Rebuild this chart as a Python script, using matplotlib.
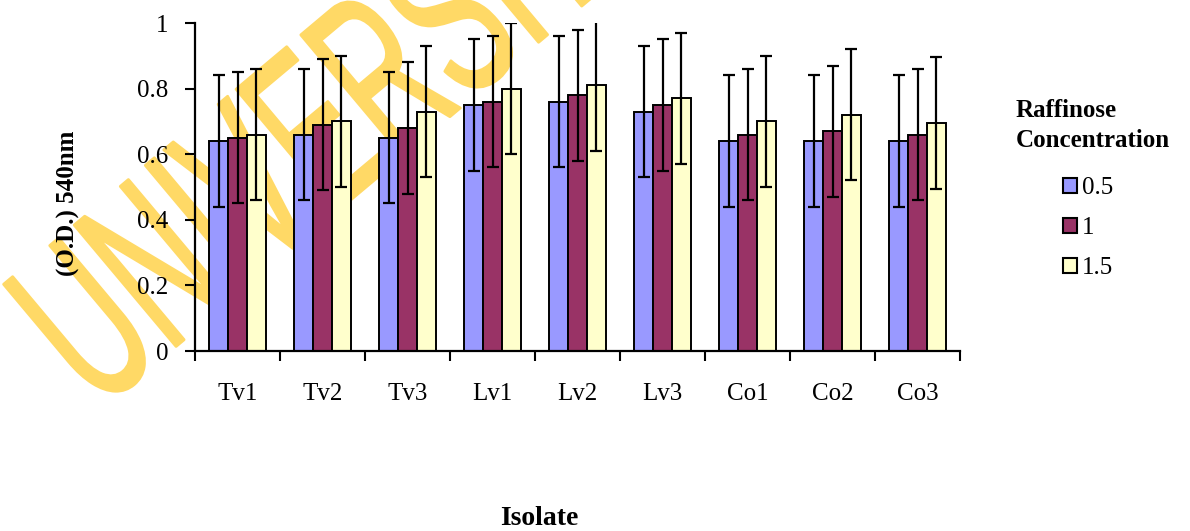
import numpy as np
import matplotlib
matplotlib.use("Agg")
import matplotlib.pyplot as plt
from matplotlib.textpath import TextPath
from matplotlib.patches import PathPatch, Patch
from matplotlib.font_manager import FontProperties
from matplotlib.transforms import Affine2D

# ---- data -------------------------------------------------------------
isolates = ["Tv1", "Tv2", "Tv3", "Lv1", "Lv2", "Lv3", "Co1", "Co2", "Co3"]
conc_labels = ["0.5", "1", "1.5"]
od_05 = [0.64, 0.66, 0.65, 0.75, 0.76, 0.73, 0.64, 0.64, 0.64]
od_10 = [0.65, 0.69, 0.68, 0.76, 0.78, 0.75, 0.66, 0.67, 0.66]
od_15 = [0.66, 0.70, 0.73, 0.80, 0.81, 0.77, 0.70, 0.72, 0.695]
err_05 = [0.2, 0.2, 0.2, 0.2, 0.2, 0.2, 0.2, 0.2, 0.2]
err_10 = [0.2, 0.2, 0.2, 0.2, 0.2, 0.2, 0.2, 0.2, 0.2]
err_15 = [0.2, 0.2, 0.2, 0.2, 0.2, 0.2, 0.2, 0.2, 0.2]
ytick_vals = [0, 0.2, 0.4, 0.6, 0.8, 1.0]
ytick_labels = ["0", "0.2", "0.4", "0.6", "0.8", "1"]

colors = ["#9999FF", "#993366", "#FFFFCC"]

# ---- figure -----------------------------------------------------------
W, H, DPI = 1190, 531, 100
plt.rcParams["font.family"] = ["Liberation Serif", "DejaVu Serif"]
fig = plt.figure(figsize=(W / DPI, H / DPI), dpi=DPI)
fig.patch.set_facecolor("white")

# library watermark behind the chart
tp = TextPath((0, 0), "UNIVERSITY", size=1,
              prop=FontProperties(family="Liberation Sans"))
sy = 165 / 0.716
sx = 0.55 * sy
wm_tr = Affine2D().scale(sx, sy).rotate_deg(40).translate(98, H - 412)
wm = PathPatch(tp, transform=wm_tr, facecolor="#FFD966", edgecolor="#FFD966",
               lw=2, joinstyle="round", zorder=-1)
fig.add_artist(wm)

ax = fig.add_axes([195 / W, 180 / H, 765 / W, 328 / H])
ax.set_facecolor("none")

x = np.arange(len(isolates))
bw = 0.2235
series = [(od_05, err_05), (od_10, err_10), (od_15, err_15)]
for i, ((vals, errs), col, lab) in enumerate(zip(series, colors, conc_labels)):
    ax.bar(x + (i - 1) * bw, vals, bw, color=col, edgecolor="black",
           linewidth=1.4, yerr=errs, capsize=4.5, label=lab,
           error_kw=dict(elinewidth=1.6, capthick=1.6, ecolor="black"))

ax.set_xlim(-0.5, len(isolates) - 0.5)
ax.set_ylim(0, 1)
ax.set_yticks(ytick_vals)
ax.set_yticklabels(ytick_labels, fontsize=18)
ax.set_xticks(x)
ax.set_xticklabels(isolates, fontsize=18)
ax.set_xticks(np.arange(-0.5, len(isolates), 1), minor=True)
ax.tick_params(axis="x", which="major", length=0, pad=23)
ax.tick_params(axis="x", which="minor", length=7, width=1.5, direction="out")
ax.tick_params(axis="y", length=7, width=1.5, direction="out", pad=12)
for s in ["top", "right"]:
    ax.spines[s].set_visible(False)
for s in ["left", "bottom"]:
    ax.spines[s].set_linewidth(1.6)

# axis titles
fig.text(68 / W, (H - 203) / H, "(O.D.) 540nm", rotation=90, ha="center",
         va="center", fontsize=18, fontweight="bold")
fig.text(539 / W, 6 / H, "Isolate", ha="center", va="baseline",
         fontsize=20, fontweight="bold")

# legend
fig.text(1016 / W, (H - 117) / H, "Raffinose", ha="left", va="baseline",
         fontsize=18, fontweight="bold")
fig.text(1016 / W, (H - 147) / H, "Concentration", ha="left", va="baseline",
         fontsize=18, fontweight="bold")
handles = [Patch(facecolor=c, edgecolor="black", linewidth=1.5) for c in colors]
ax.legend(handles, conc_labels, loc="upper left",
          bbox_to_anchor=(1063 / W, (H - 177) / H), bbox_transform=fig.transFigure,
          frameon=False, fontsize=18, handlelength=0.55, handleheight=0.55,
          handletextpad=0.2, labelspacing=0.72, borderpad=0, borderaxespad=0)

fig.savefig("out.png", dpi=DPI, facecolor="white")
